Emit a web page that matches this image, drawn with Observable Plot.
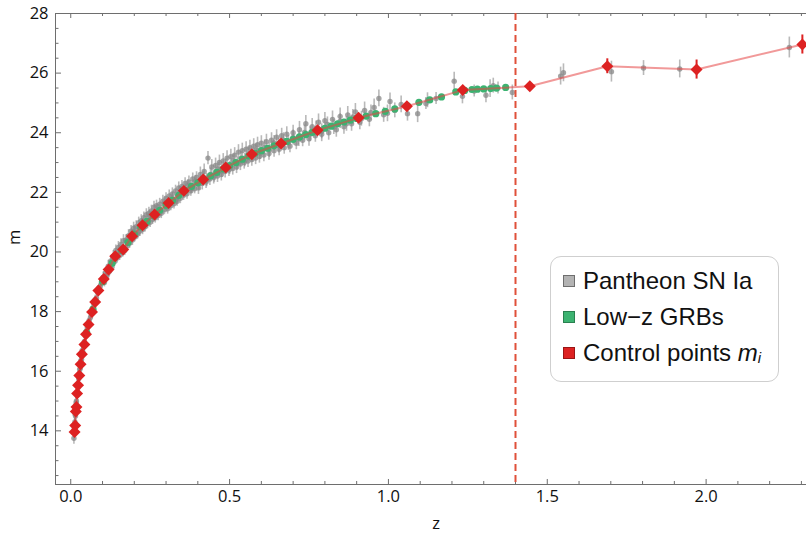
<!DOCTYPE html>
<html>
<head>
<meta charset="utf-8">
<script src="https://cdn.jsdelivr.net/npm/d3@7"></script>
<script src="https://cdn.jsdelivr.net/npm/@observablehq/plot@0.6"></script>
<style>
  body { margin: 0; background: #fff; }
  #wrap { position: relative; width: 806px; height: 538px; }
  #legend {
    position: absolute; left: 550px; top: 256px; width: 227px; height: 124px;
    border: 1px solid #cfcfcf; border-radius: 11px; background: #fff;
    font-family: "Liberation Sans", Arial, sans-serif; font-size: 24px; color: #111;
  }
  .row { position: absolute; left: 12px; height: 26px; line-height: 26px; display: flex; align-items: center; white-space: nowrap; }
  .sw { width: 12px; height: 12px; margin-right: 8px; box-sizing: border-box; flex: none; }
</style>
</head>
<body>
<div id="wrap"></div>
<script>
// ---- data ----
const xTicks = [0, 0.5, 1.0, 1.5, 2.0];
const yTicks = [14, 16, 18, 20, 22, 24, 26, 28];
const zCut = 1.4;

// Pantheon SN Ia: [z, m, error]
const snPoints = [
[0.010,13.75,0.2],[0.011,14.05,0.18],[0.012,14.2,0.2],[0.013,14.3,0.15],[0.014,14.55,0.2],
[0.015,14.5,0.18],[0.016,14.85,0.15],[0.017,14.95,0.2],[0.018,15.0,0.17],[0.019,15.25,0.15],
[0.021,15.3,0.18],[0.022,15.55,0.2],[0.023,15.45,0.16],[0.025,15.75,0.17],[0.026,15.85,0.15],
[0.028,16.05,0.18],[0.030,16.1,0.16],[0.032,16.35,0.15],[0.034,16.4,0.17],[0.036,16.7,0.16],
[0.038,16.65,0.15],[0.040,16.85,0.18],[0.043,17.0,0.16],[0.046,17.2,0.15],[0.049,17.25,0.17],
[0.052,17.45,0.16],[0.055,17.5,0.15],[0.058,17.7,0.17],[0.062,17.8,0.16],[0.065,18.0,0.15],
[0.069,18.05,0.17],[0.073,18.25,0.16],[0.077,18.4,0.15],[0.081,18.45,0.17],[0.085,18.65,0.16],
[0.089,18.8,0.15],[0.093,18.85,0.17],[0.097,19.0,0.16],
[0.102,19.15,0.18],[0.106,18.98,0.15],[0.110,19.3,0.17],[0.114,19.2,0.16],[0.118,19.52,0.2],
[0.122,19.35,0.15],[0.126,19.7,0.18],[0.130,19.5,0.16],[0.134,19.85,0.2],[0.138,19.68,0.15],
[0.142,20.05,0.18],[0.146,19.8,0.17],[0.150,20.15,0.2],[0.154,19.88,0.16],[0.158,20.25,0.19],
[0.162,20.0,0.16],[0.166,20.38,0.2],[0.170,20.05,0.17],[0.174,20.4,0.18],[0.178,20.2,0.16],
[0.182,20.55,0.2],[0.186,20.3,0.17],[0.190,20.7,0.19],[0.194,20.4,0.18],[0.198,20.8,0.2],
[0.202,20.5,0.16],[0.206,20.85,0.2],[0.210,20.6,0.17],[0.214,20.98,0.19],[0.218,20.7,0.18],
[0.222,21.05,0.2],[0.226,20.75,0.17],[0.230,21.15,0.19],[0.234,20.85,0.18],[0.238,21.25,0.2],
[0.242,20.95,0.17],[0.246,21.3,0.2],[0.250,21.0,0.18],[0.254,21.38,0.19],[0.258,21.1,0.17],
[0.262,21.5,0.2],[0.266,21.15,0.18],[0.270,21.55,0.19],[0.275,21.22,0.17],[0.280,21.6,0.2],
[0.285,21.3,0.18],[0.290,21.7,0.2],[0.295,21.42,0.17],[0.300,21.8,0.19],[0.305,21.45,0.18],
[0.310,21.88,0.2],[0.315,21.55,0.17],[0.320,21.95,0.2],[0.325,21.62,0.18],[0.330,22.05,0.19],
[0.335,21.7,0.17],[0.340,22.15,0.2],[0.345,21.8,0.18],[0.350,22.2,0.2],[0.355,21.9,0.17],
[0.360,22.3,0.19],[0.366,21.95,0.18],[0.372,22.35,0.2],[0.378,22.05,0.18],[0.384,22.45,0.2],
[0.390,22.12,0.17],[0.396,22.5,0.19],
[0.402,22.15,0.22],[0.408,22.6,0.25],[0.414,22.3,0.22],[0.420,22.7,0.25],[0.426,22.35,0.22],
[0.432,23.15,0.22],[0.438,22.45,0.22],[0.444,22.85,0.25],[0.450,22.5,0.22],[0.456,22.9,0.25],
[0.462,22.55,0.22],[0.468,23.0,0.25],[0.474,22.6,0.22],[0.480,23.05,0.25],[0.486,22.7,0.22],
[0.492,23.15,0.25],[0.498,22.75,0.22],[0.504,23.2,0.25],[0.510,22.8,0.22],[0.516,23.25,0.25],
[0.522,22.85,0.22],[0.528,23.35,0.25],[0.534,22.95,0.22],[0.540,23.4,0.25],[0.546,23.0,0.22],
[0.552,23.45,0.25],[0.558,23.05,0.22],[0.564,23.5,0.25],[0.570,23.1,0.22],[0.576,23.55,0.25],
[0.582,23.15,0.22],[0.588,23.6,0.25],[0.594,23.2,0.22],[0.600,23.65,0.25],[0.608,23.25,0.22],
[0.616,23.7,0.25],[0.624,23.3,0.22],[0.632,23.75,0.25],[0.640,23.4,0.22],[0.648,23.85,0.25],
[0.656,23.45,0.22],[0.664,23.9,0.25],[0.672,23.5,0.22],[0.680,23.95,0.25],[0.690,23.55,0.22],
[0.700,24.0,0.25],[0.710,23.65,0.22],[0.720,24.1,0.28],[0.730,23.75,0.22],[0.740,24.3,0.28],
[0.750,23.8,0.25],[0.760,24.2,0.28],[0.770,23.9,0.22],[0.780,24.35,0.28],[0.790,23.95,0.25],
[0.800,24.4,0.28],[0.812,24.0,0.25],[0.824,24.45,0.28],[0.836,24.1,0.25],[0.848,24.55,0.28],
[0.860,24.2,0.25],[0.872,24.6,0.28],[0.884,24.3,0.25],[0.896,24.7,0.28],[0.910,24.35,0.25],
[0.925,24.75,0.28],[0.940,24.45,0.25],[0.955,24.85,0.28],[0.970,25.15,0.28],[0.985,24.6,0.25],
[0.997,24.65,0.28],[1.005,25.05,0.28],[1.020,24.75,0.25],[1.040,24.95,0.28],
[1.060,24.64,0.25],[1.092,24.64,0.3],[1.118,24.98,0.2],[1.123,25.09,0.25],[1.150,25.15,0.2],
[1.207,25.73,0.3],[1.233,25.22,0.25],[1.270,25.4,0.2],[1.307,25.26,0.25],[1.320,25.48,0.3],
[1.330,25.58,0.25],[1.345,25.5,0.2],[1.390,25.35,0.25],
[1.542,25.90,0.3],[1.551,26.01,0.3],[1.702,26.05,0.35],[1.803,26.17,0.25],[1.917,26.14,0.3],
[2.262,26.86,0.35],
// points lying close to the curve
[0.104,19.14,0.2],[0.116,19.28,0.18],[0.128,19.66,0.2],[0.140,19.79,0.18],[0.152,20.03,0.2],
[0.164,20.01,0.18],[0.176,20.38,0.2],[0.188,20.40,0.18],[0.200,20.67,0.2],[0.212,20.65,0.18],
[0.224,20.92,0.2],[0.236,20.93,0.18],[0.248,21.20,0.2],[0.260,21.19,0.18],[0.272,21.38,0.2],
[0.284,21.36,0.18],[0.296,21.64,0.2],[0.308,21.59,0.18],[0.320,21.80,0.2],[0.332,21.75,0.18],
[0.344,21.99,0.2],[0.356,22.01,0.18],[0.368,22.22,0.2],[0.380,22.13,0.18],[0.392,22.37,0.2],
[0.404,22.29,0.22],[0.416,22.49,0.22],[0.428,22.41,0.22],[0.440,22.60,0.22],[0.452,22.56,0.22],
[0.464,22.78,0.22],[0.476,22.72,0.22],[0.488,22.90,0.22],[0.500,22.82,0.22],[0.512,23.06,0.22],
[0.524,22.97,0.22],[0.536,23.15,0.22],[0.548,23.08,0.22],[0.560,23.30,0.22],[0.572,23.23,0.22],
[0.584,23.42,0.22],[0.596,23.32,0.22],[0.610,23.51,0.25],[0.625,23.42,0.25],[0.640,23.66,0.25],
[0.655,23.57,0.25],[0.670,23.75,0.25],[0.685,23.66,0.25],[0.700,23.84,0.25],[0.718,23.79,0.25],
[0.736,24.01,0.25],[0.754,23.95,0.25],[0.772,24.14,0.25],[0.790,24.05,0.25],[0.808,24.28,0.25],
[0.828,24.19,0.25],[0.848,24.39,0.25],[0.868,24.30,0.25],[0.888,24.53,0.25],[0.915,24.47,0.25],
[0.945,24.68,0.25]
];

// Low-z GRBs: [z, m]
const grbPoints = [
[0.035,16.57],[0.05,17.3],[0.07,18.08],[0.10,19.0],[0.13,19.62],[0.16,20.05],[0.18,20.32],
[0.20,20.6],[0.22,20.84],[0.24,21.03],[0.26,21.22],[0.28,21.4],[0.30,21.57],[0.32,21.73],
[0.34,21.9],[0.36,22.07],[0.38,22.2],[0.40,22.32],[0.42,22.44],[0.44,22.55],[0.46,22.67],
[0.48,22.79],[0.50,22.9],[0.52,23.0],[0.54,23.11],[0.56,23.22],[0.58,23.31],[0.60,23.4],
[0.62,23.48],[0.64,23.56],[0.66,23.64],[0.68,23.71],[0.70,23.78],[0.72,23.86],[0.74,23.94],
[0.76,24.01],[0.78,24.08],[0.80,24.15],[0.82,24.22],[0.84,24.3],[0.86,24.36],[0.88,24.42],
[0.90,24.48],[0.93,24.56],[0.96,24.64],[0.99,24.72],[1.02,24.8],[1.06,24.9],[1.096,25.02],
[1.13,25.1],[1.167,25.2],[1.212,25.37],[1.24,25.42],[1.263,25.45],[1.28,25.46],[1.30,25.47],
[1.322,25.48],[1.34,25.5],[1.369,25.52]
];

// Control points m_i
const ctrlZ = [0.012,0.014,0.016,0.018,0.020,0.023,0.027,0.031,0.035,0.043,0.048,0.056,0.067,0.077,0.087,
  0.104,0.119,0.140,0.165,0.193,0.226,0.264,0.308,0.356,0.417,0.488,0.570,0.662,0.777,0.906,1.058,1.234,1.445,1.689,1.970,2.303];
const ctrlM = [13.96,14.18,14.65,14.80,15.25,15.53,15.86,16.23,16.57,16.90,17.24,17.57,17.99,18.32,18.71,
  19.09,19.41,19.86,20.08,20.53,20.90,21.26,21.64,22.05,22.43,22.83,23.28,23.64,24.08,24.50,24.89,25.43,25.56,26.23,26.12,26.96];
const ctrlErr = [0,0,0,0,0,0,0,0,0,0,0,0,0,0,0,0,0,0,0,0,0,0,0,0,0,0,0,0,0,0,0,0,0,0.25,0.32,0.32];

// ---- build ----
const ctrl = ctrlZ.map((z, i) => ({z, m: ctrlM[i], e: ctrlErr[i]}));
const sn = snPoints.map(([z, m, e]) => ({z, m, e}));
const grb = grbPoints.map(([z, m]) => ({z, m}));

const xDom = [-0.048, 2.316];
const yDom = [12.2, 28];
const xMinor = d3.range(0, 24).map(i => +(i / 10).toFixed(1)).filter(v => !xTicks.includes(v));
const yMinor = d3.range(25, 57).map(i => i / 2).filter(v => !yTicks.includes(v));
const frameColor = "#6e6e6e";
const font = "'Open Sans', sans-serif";

const tick = (data, chan, fixed, rotate, length) =>
  Plot.vector(data, {
    [chan]: d => d, [chan === "x" ? "y" : "x"]: () => fixed,
    rotate, length, anchor: "start", shape: "spike",
    stroke: frameColor, fill: "none", strokeWidth: 1
  });

const plot = Plot.plot({
  width: 806, height: 538,
  marginLeft: 55, marginRight: 0, marginTop: 13, marginBottom: 54,
  x: {domain: xDom, axis: null},
  y: {domain: yDom, axis: null},
  style: {fontFamily: font, background: "transparent"},
  marks: [
    // frame lines
    Plot.ruleY([yDom[1]], {stroke: frameColor, strokeWidth: 1}),
    Plot.ruleY([yDom[0]], {stroke: frameColor, strokeWidth: 1}),
    Plot.ruleX([xDom[0]], {stroke: frameColor, strokeWidth: 1}),
    // ticks pointing inward
    Plot.ruleX(xMinor, {x: d => d, y1: yDom[0], y2: yDom[0] + 3 / 29.8, stroke: frameColor}),
    Plot.ruleX(xTicks, {x: d => d, y1: yDom[0], y2: yDom[0] + 5 / 29.8, stroke: frameColor}),
    Plot.ruleX(xMinor, {x: d => d, y1: yDom[1], y2: yDom[1] - 3 / 29.8, stroke: frameColor}),
    Plot.ruleX(xTicks, {x: d => d, y1: yDom[1], y2: yDom[1] - 5 / 29.8, stroke: frameColor}),
    Plot.ruleY(yMinor, {y: d => d, x1: xDom[0], x2: xDom[0] + 3.5 / 317.7, stroke: frameColor}),
    Plot.ruleY(yTicks, {y: d => d, x1: xDom[0], x2: xDom[0] + 6 / 317.7, stroke: frameColor}),
    // tick labels
    Plot.text(xTicks, {x: d => d, frameAnchor: "bottom", dy: 17, text: d => d3.format(".1f")(d), fontSize: 16.5, fill: "#111"}),
    Plot.text(yTicks, {y: d => d, frameAnchor: "left", dx: -7, textAnchor: "end", text: d => String(d), fontSize: 16.5, fill: "#111"}),
    // axis labels
    Plot.text(["m"], {frameAnchor: "left", dx: -41, dy: -4, rotate: -90, text: d => d, fontSize: 16.5, fill: "#111"}),
    Plot.text(["z"], {frameAnchor: "bottom", dx: 5, dy: 44, text: d => d, fontSize: 16.5, fill: "#111"}),
    // Pantheon SN Ia
    Plot.ruleX(sn, {x: "z", y1: d => d.m - d.e, y2: d => d.m + d.e, stroke: "#8a8a8a", strokeOpacity: 0.6, strokeWidth: 1.6}),
    Plot.dot(sn, {x: "z", y: "m", r: 2.7, fill: "#888", fillOpacity: 0.75, stroke: "none"}),
    // Low-z GRBs
    Plot.dot(grb, {x: "z", y: "m", r: 3.6, fill: "#3cb371", stroke: "none"}),
    // control-point curve
    Plot.line(ctrl, {x: "z", y: "m", stroke: "#e64545", strokeOpacity: 0.55, strokeWidth: 2}),
    // threshold
    Plot.ruleX([zCut], {stroke: "#e0503a", strokeWidth: 2, strokeDasharray: "7,4"}),
    // control points
    Plot.ruleX(ctrl.filter(d => d.e > 0), {x: "z", y1: d => d.m - d.e, y2: d => d.m + d.e, stroke: "#dd2222", strokeWidth: 2}),
    Plot.dot(ctrl, {x: "z", y: "m", symbol: "diamond2", r: 5.4, fill: "#dd2222", stroke: "none"})
  ]
});

const wrap = document.getElementById("wrap");
wrap.appendChild(plot);

const legend = document.createElement("div");
legend.id = "legend";
legend.innerHTML = `
  <div class="row" style="top:11px"><span class="sw" style="background:#b3b3b3;border:1px solid #6e6e6e"></span>Pantheon SN Ia</div>
  <div class="row" style="top:47px"><span class="sw" style="background:#3cb371;border:1px solid #2a8050"></span>Low\u2212z GRBs</div>
  <div class="row" style="top:83px"><span class="sw" style="background:#dd2222;border:1px solid #9a1515"></span>Control points&nbsp;<i>m</i><i style="font-size:15px;position:relative;top:5px">i</i></div>
`;
wrap.appendChild(legend);
</script>
</body>
</html>
